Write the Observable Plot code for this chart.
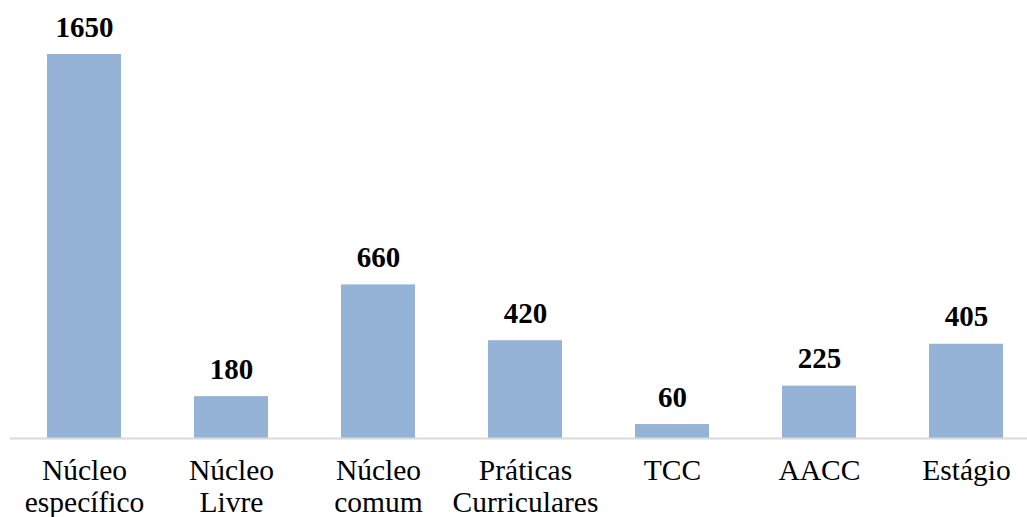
<!DOCTYPE html>
<html>
<head>
<meta charset="utf-8">
<script src="https://cdn.jsdelivr.net/npm/d3@7"></script>
<script src="https://cdn.jsdelivr.net/npm/@observablehq/plot@0.6"></script>
<style>
  html, body { margin: 0; padding: 0; background: #fff; }
  #chart svg { display: block; }
  #chart svg text { font-family: "Liberation Serif", "Times New Roman", "DejaVu Serif", serif; }
</style>
</head>
<body>
<div id="chart"></div>
<script>
const categories = ["Núcleo\nespecífico", "Núcleo\nLivre", "Núcleo\ncomum", "Práticas\nCurriculares", "TCC", "AACC", "Estágio"];
const hours = [1650, 180, 660, 420, 60, 225, 405];

const data = categories.map((c, i) => ({category: c, value: hours[i]}));
const serif = "'Liberation Serif', 'Times New Roman', serif";

const chart = Plot.plot({
  width: 1027,
  height: 517,
  marginTop: 54,
  marginBottom: 79,
  marginLeft: 10,
  marginRight: 0,
  style: {fontFamily: serif, background: "#fff"},
  x: {domain: categories, range: [46, 1004], paddingInner: 0.5, paddingOuter: 0, axis: null},
  y: {domain: [0, 1650], axis: null},
  marks: [
    Plot.barY(data, {x: "category", y: "value", fill: "#95b3d7"}),
    Plot.ruleY([0], {stroke: "#d9d9d9", strokeWidth: 2}),
    Plot.text(data, {x: "category", y: "value", text: d => String(d.value), lineAnchor: "bottom", dy: -18, fontSize: 29, fontWeight: "bold", fontFamily: serif, fill: "#000"}),
    Plot.text(data, {x: "category", y: () => 0, text: "category", lineAnchor: "top", dy: 19, fontSize: 29.5, lineHeight: 1.08, fontFamily: serif, fill: "#000"})
  ]
});
document.getElementById("chart").appendChild(chart);
</script>
</body>
</html>
